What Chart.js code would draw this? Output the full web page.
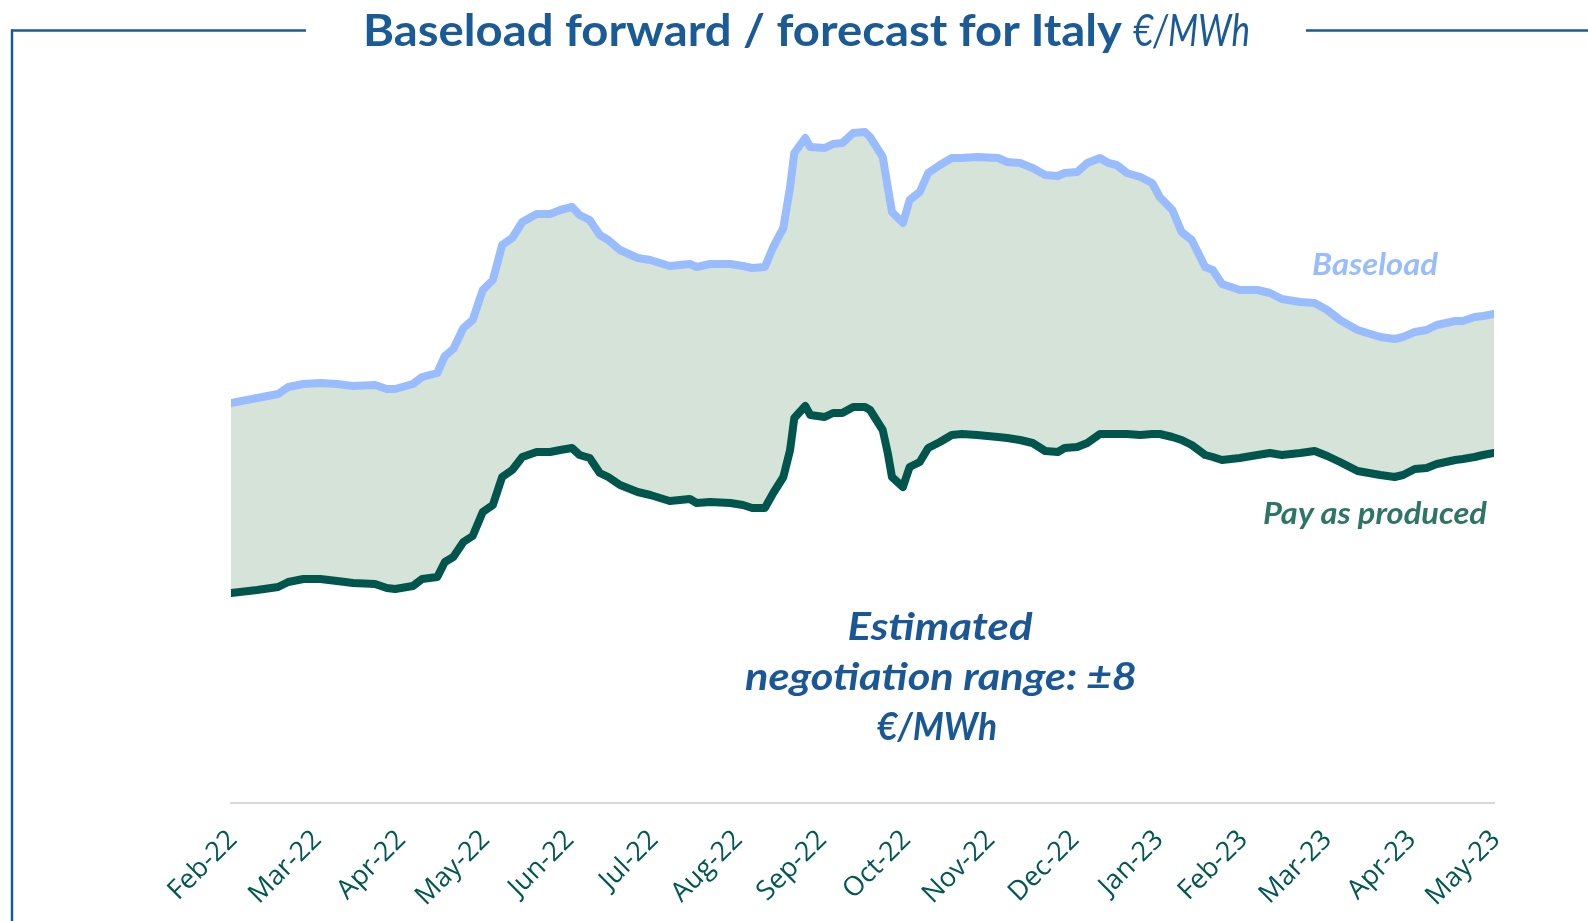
<!DOCTYPE html>
<html>
<head>
<meta charset="utf-8">
<script src="https://cdn.jsdelivr.net/npm/chart.js@4"></script>
<style>
  html, body { margin: 0; padding: 0; background: #ffffff; }
  #wrap { position: relative; width: 1588px; height: 921px; overflow: hidden; }
  #c { position: absolute; left: 0; top: 0; }
  #overlay { position: absolute; left: 0; top: 0; pointer-events: none; }
</style>
</head>
<body>
<div id="wrap">
  <canvas id="c" width="1588" height="921"></canvas>
  <svg id="overlay" width="1588" height="921" xmlns="http://www.w3.org/2000/svg">
    <line x1="12" y1="30.5" x2="306" y2="30.5" stroke="#1a5b97" stroke-width="2.5"/>
    <line x1="12" y1="29.3" x2="12" y2="921" stroke="#1a5b97" stroke-width="2.5"/>
    <line x1="1306" y1="30.5" x2="1588" y2="30.5" stroke="#1a5b97" stroke-width="2.5"/>
    <text x="363" y="46" font-family="Lato, 'Open Sans', sans-serif" font-weight="bold" font-size="44" fill="#1a5b97" textLength="759" lengthAdjust="spacingAndGlyphs">Baseload forward / forecast for Italy</text>
    <text x="1133" y="46" font-family="Lato, 'Open Sans', sans-serif" font-style="italic" font-size="44" fill="#1a5b97" textLength="117" lengthAdjust="spacingAndGlyphs">€/MWh</text>
    <text x="1312" y="275" font-family="Lato, 'Open Sans', sans-serif" font-weight="bold" font-style="italic" font-size="30" fill="#99bcff" textLength="126" lengthAdjust="spacingAndGlyphs">Baseload</text>
    <text x="1263" y="524" font-family="Lato, 'Open Sans', sans-serif" font-weight="bold" font-style="italic" font-size="30" fill="#2f7566" textLength="224" lengthAdjust="spacingAndGlyphs">Pay as produced</text>
    <text x="940" y="640" text-anchor="middle" font-family="Lato, 'Open Sans', sans-serif" font-weight="bold" font-style="italic" font-size="38" fill="#1a5796" textLength="185" lengthAdjust="spacingAndGlyphs">Estimated</text>
    <text x="941" y="690" text-anchor="middle" font-family="Lato, 'Open Sans', sans-serif" font-weight="bold" font-style="italic" font-size="38" fill="#1a5796" textLength="392" lengthAdjust="spacingAndGlyphs">negotiation range: ±8</text>
    <text x="937" y="740" text-anchor="middle" font-family="Lato, 'Open Sans', sans-serif" font-weight="bold" font-style="italic" font-size="38" fill="#1a5796" textLength="120" lengthAdjust="spacingAndGlyphs">€/MWh</text>
  </svg>
</div>
<script>
// Month tick labels
const monthLabels = ['Feb-22','Mar-22','Apr-22','May-22','Jun-22','Jul-22','Aug-22','Sep-22',
                     'Oct-22','Nov-22','Dec-22','Jan-23','Feb-23','Mar-23','Apr-23','May-23'];

// Position of each observation, in months since Feb-22
const monthPos = [0,0.31,0.56,0.68,0.86,1.06,1.26,1.45,1.71,1.85,1.95,2.16,2.27,2.45,2.54,2.64,2.76,2.87,2.99,3.11,
  3.22,3.34,3.46,3.63,3.79,3.91,4.05,4.14,4.26,4.38,4.48,4.62,4.83,4.98,5.21,5.45,5.53,5.69,5.93,6.08,
  6.19,6.34,6.44,6.56,6.64,6.69,6.82,6.88,7.05,7.15,7.26,7.39,7.53,7.59,7.74,7.80,7.85,7.98,8.06,8.18,
  8.28,8.42,8.56,8.68,8.86,9.11,9.22,9.37,9.52,9.67,9.82,9.90,10.05,10.17,10.32,10.42,10.52,10.64,10.80,10.94,
  11.03,11.18,11.29,11.41,11.57,11.66,11.77,11.98,12.19,12.34,12.48,12.70,12.87,13.02,13.17,13.38,13.65,13.82,13.92,14.06,
  14.20,14.32,14.54,14.63,14.77,14.87,15];

// Baseload forward / forecast (€/MWh)
const baseload = [200,202.5,204.5,208,209.5,210,209.5,208.5,209,207,207,209.5,213,215,223.5,227,237.5,241.5,256.5,261.5,
  279,282.5,290.5,294.5,294.5,296.5,298,294,291.5,284,281.5,276.5,272.5,271.5,268.5,269.5,268,269.5,269.5,268.5,
  267.5,268,278,287.5,308,325,332.5,328,327.5,329.5,330,335,335.5,333,323,308,295.5,290,301.5,305.5,
  315,319,322.5,322.5,323,322.5,320.5,320,317.5,314,313.5,315,315.5,320,322.5,320,319,315,313,310,
  303,296.5,285.5,281.5,268,266.5,259.5,256.5,256.5,255,252,250.5,250,246.5,241.5,236.5,233,232,233,235.5,
  236.5,239,241,241,243,243.5,244.5];

// Pay as produced (€/MWh)
const payAsProduced = [105,106.5,108,110.5,112,112,111,110,109.5,107.5,107,108.5,112,113,120.5,123,130.5,133.5,145.5,149,
  163,166.5,173,175.5,175.5,176.5,177.5,174,172.5,165,163,159,155.5,154,151,152,150,150.5,150,149,
  147.5,147.5,155,163,176.5,192.5,198.5,194,193,195,195,198,198,196.5,186.5,175,163,158,168,170.5,
  177.5,180.5,184,184.5,184,183,182.5,181.5,180,176,175.5,177.5,178,180,184.5,184.5,184.5,184.5,184,184.5,
  184.5,183,181.5,179,174,173,171.5,172.5,174,175,174,175,176,173.5,170.5,166,164,163,164,167,
  167.5,169.5,171.5,172,173,174,175];

const toPoints = (ys) => monthPos.map((x, i) => ({ x: x, y: ys[i] }));

new Chart(document.getElementById('c'), {
  type: 'line',
  data: {
    datasets: [
      {
        label: 'Baseload',
        data: toPoints(baseload),
        borderColor: '#99bcff',
        borderWidth: 8,
        backgroundColor: '#d5e3d8',
        fill: '+1',
        pointRadius: 0,
        tension: 0,
        borderJoinStyle: 'round',
        borderCapStyle: 'round'
      },
      {
        label: 'Pay as produced',
        data: toPoints(payAsProduced),
        borderColor: '#00564d',
        borderWidth: 8,
        fill: false,
        pointRadius: 0,
        tension: 0,
        borderJoinStyle: 'round',
        borderCapStyle: 'round'
      }
    ]
  },
  options: {
    responsive: false,
    animation: false,
    devicePixelRatio: 1,
    layout: { padding: { left: 231, right: 94, top: 103, bottom: 0 } },
    plugins: {
      legend: { display: false },
      title: { display: false },
      tooltip: { enabled: false },
      filler: { drawTime: 'beforeDatasetsDraw' }
    },
    scales: {
      x: {
        type: 'linear',
        min: 0,
        max: 15,
        afterFit: (s) => { s.height = 118; },
        grid: { display: false, drawTicks: false },
        border: { display: true, color: '#d9d9d9', width: 2 },
        ticks: {
          stepSize: 1,
          autoSkip: false,
          minRotation: 45,
          maxRotation: 45,
          padding: 21,
          labelOffset: 2,
          color: '#005850',
          font: { family: "'Open Sans', sans-serif", size: 27 },
          callback: (v) => monthLabels[v] ?? ''
        }
      },
      y: {
        display: false,
        min: 0,
        max: 350
      }
    }
  }
});
</script>
</body>
</html>
